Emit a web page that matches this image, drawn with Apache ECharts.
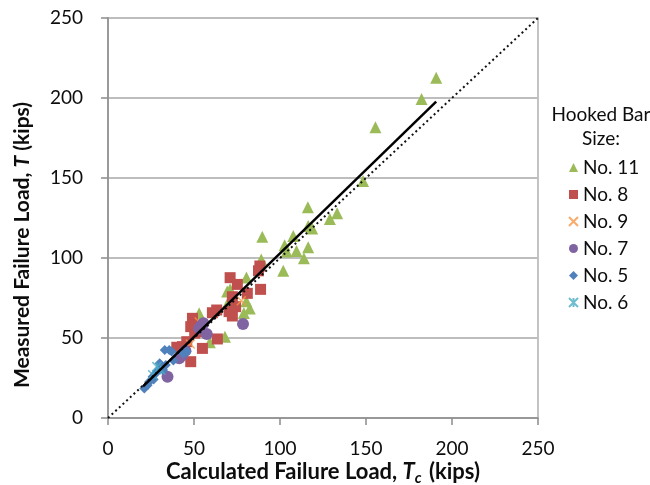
<!DOCTYPE html>
<html>
<head>
<meta charset="utf-8">
<script src="https://cdn.jsdelivr.net/npm/echarts@6/dist/echarts.min.js"></script>
<style>
html,body{margin:0;padding:0;background:#fff;}
#c{width:650px;height:485px;}
</style>
</head>
<body>
<div id="c"></div>
<script>
// ---- data (Calculated Tc, Measured T), kips ----
const xTicks = [0, 50, 100, 150, 200, 250];
const yTicks = [0, 50, 100, 150, 200, 250];
const seriesNames = ['No. 11', 'No. 8', 'No. 9', 'No. 7', 'No. 5', 'No. 6'];

const no11 = [[190.8,212.7],[182.3,199.4],[155.5,181.7],[148.3,148.1],[116.2,131.7],[129,124.4],[133.2,127.9],
  [116.4,120],[118.7,118.5],[107.7,113.75],[89.7,113.3],[102.7,108],[103.8,104],[109.6,104.4],[116.4,106.7],
  [113.9,99.8],[101.9,92],[89.1,99],[80.5,87.8],[71,80.4],[69.4,71.3],[80.4,72.9],[82.4,68.5],[79,65.6],
  [53,65.4],[68,50.8],[59.2,47.3],[69.3,79]];
const no8 = [[88.3,95],[87.5,92],[88.7,80.4],[71,87.7],[75.2,83.5],[81,77.9],[72.3,75.8],[74.2,69.6],[70.4,66.5],
  [72.3,63.75],[63.2,67.5],[60.7,65.8],[49.1,62.3],[50.6,58.1],[48.1,57.1],[53.6,54],[63.6,49.4],[54.9,43.5],
  [43.3,44.6],[40,44.2],[48.1,35.2],[45.8,47.7],[50.4,53]];
const no9 = [[77.5,73.3],[47.8,46.2],[53,60]];
const no7 = [[55.5,59.2],[57.4,52.5],[53,56],[78.5,58.75],[41.4,37.3],[43,39],[34.6,25.8],[45,42],[54,57.3]];
const no5 = [[35.6,42.5],[37,41.5],[45.8,41.4],[33.6,33.1],[30.7,31.7],[27.8,27.9],[25.9,25.8],[24,22.7],
  [21.1,18.5],[29,29.5],[32,30],[23,20.5],[26.5,24],[38,36],[33,42.5],[43.7,40.4],[30,34.2]];
const no6 = [[28.4,32.1],[30.7,30],[26,27]];
const fitLine = [[20.4,19.8],[190.8,197.7]];
const equalityLine = [[0,0],[250,250]];

const colors = ['#9BBB59', '#C0504D', '#F79646', '#8064A2', '#4F81BD', '#4BACC6'];
const FONT = 'Lato';
const TXT = '#0d0d0d';

const xPath = 'path://M0,0L10,10M10,0L0,10';
const starPath = 'path://M0,0L10,10M10,0L0,10M5,0L5,10';

const chart = echarts.init(document.getElementById('c'), null, {renderer: 'canvas'});

function scatter(name, data, idx, symbol, size, extra) {
  return Object.assign({
    name: name,
    type: 'scatter',
    data: data,
    symbol: symbol,
    symbolSize: size,
    itemStyle: {color: colors[idx], opacity: 1},
    z: 3
  }, extra || {});
}

const option = {
  animation: false,
  backgroundColor: '#fff',
  textStyle: {fontFamily: FONT},
  grid: {left: 108, top: 18, right: 112, bottom: 67, show: true, borderColor: '#B0B0B0', borderWidth: 1.5},
  xAxis: {
    type: 'value', min: xTicks[0], max: xTicks[xTicks.length - 1], interval: 50,
    axisLine: {show: true, onZero: false, lineStyle: {color: '#8C8C8C', width: 1.5}},
    axisTick: {show: true, inside: false, length: 7, lineStyle: {color: '#8C8C8C', width: 1.5}},
    splitLine: {show: false},
    axisLabel: {color: TXT, fontSize: 19, fontFamily: FONT, margin: 21}
  },
  yAxis: {
    type: 'value', min: yTicks[0], max: yTicks[yTicks.length - 1], interval: 50,
    axisLine: {show: true, onZero: false, lineStyle: {color: '#8C8C8C', width: 1.5}},
    axisTick: {show: true, inside: false, length: 7, lineStyle: {color: '#8C8C8C', width: 1.5}},
    splitLine: {show: true, lineStyle: {color: '#BDBDBD', width: 2}},
    axisLabel: {color: TXT, fontSize: 19, fontFamily: FONT, margin: 25}
  },
  legend: {
    data: seriesNames,
    orient: 'vertical',
    left: 563, top: 153,
    itemWidth: 9, itemHeight: 9, itemGap: 8,
    textStyle: {color: TXT, fontSize: 19, fontFamily: FONT, lineHeight: 19},
    selectedMode: false
  },
  graphic: [
    {type: 'text', x: 601, y: 127, style: {text: 'Hooked Bar\nSize:', fill: TXT, font: '19px ' + FONT,
      align: 'center', verticalAlign: 'middle', lineHeight: 24}},
    {type: 'text', x: 323, y: 472, style: {
      align: 'center', verticalAlign: 'middle',
      rich: {
        n: {fontSize: 22, fontWeight: 'bold', fontFamily: FONT, fill: TXT},
        i: {fontSize: 22, fontWeight: 'bold', fontStyle: 'italic', fontFamily: FONT, fill: TXT},
        s: {fontSize: 15, fontWeight: 'bold', fontStyle: 'italic', fontFamily: FONT, fill: TXT, padding: [13,2,0,0]}
      },
      text: '{n|Calculated Failure Load, }{i|T}{s|c}{n| (kips)}'
    }},
    {type: 'text', x: 22, y: 245, rotation: Math.PI / 2, style: {
      align: 'center', verticalAlign: 'middle',
      rich: {
        n: {fontSize: 21, fontWeight: 'bold', fontFamily: FONT, fill: TXT},
        i: {fontSize: 21, fontWeight: 'bold', fontStyle: 'italic', fontFamily: FONT, fill: TXT}
      },
      text: '{n|Measured Failure Load, }{i|T}{n| (kips)}'
    }}
  ],
  series: [
    scatter('No. 11', no11, 0, 'triangle', 12),
    scatter('No. 8', no8, 1, 'rect', 11),
    scatter('No. 9', no9, 2, xPath, 9, {itemStyle: {color: 'rgba(0,0,0,0)', borderColor: colors[2], borderWidth: 1.5}}),
    scatter('No. 7', no7, 3, 'circle', 12),
    scatter('No. 5', no5, 4, 'diamond', 10),
    scatter('No. 6', no6, 5, starPath, 9, {itemStyle: {color: 'rgba(0,0,0,0)', borderColor: colors[5], borderWidth: 1.5}}),
    {type: 'line', data: equalityLine, symbol: 'none', z: 5, silent: true,
      lineStyle: {color: '#111', width: 2, type: [2, 3]}},
    {type: 'line', data: fitLine, symbol: 'none', z: 6, silent: true,
      lineStyle: {color: '#000', width: 2.5}}
  ]
};
chart.setOption(option);
</script>
</body>
</html>
